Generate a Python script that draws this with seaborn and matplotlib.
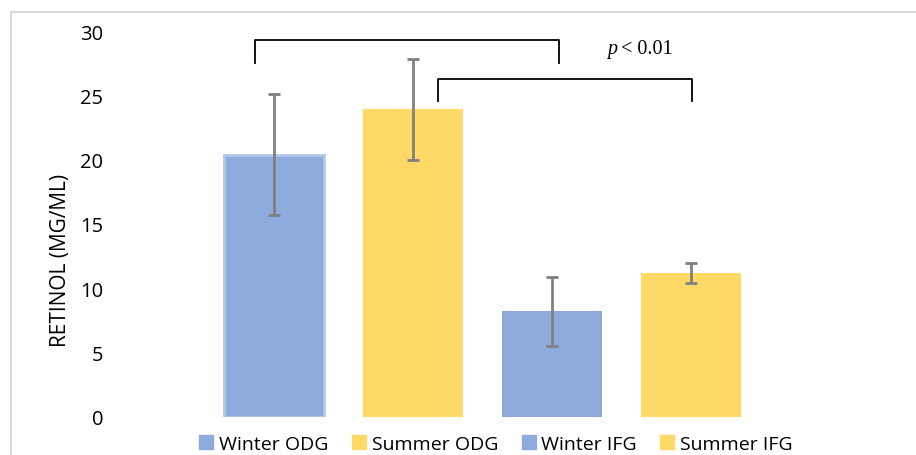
import matplotlib
matplotlib.use("Agg")
import matplotlib.pyplot as plt
import matplotlib.patches as mpatches
import seaborn as sns

# Datos
grupos = ["Winter ODG", "Summer ODG", "Winter IFG", "Summer IFG"]
retinol = [20.4, 23.9, 8.2, 11.2]
error = [4.7, 3.9, 2.7, 0.8]
colores = ["#8FAADC", "#FFD966", "#8FAADC", "#FFD966"]

# Corchetes de significancia: (x inicio, x fin, y superior, y de las patas)
corchetes = [(-0.14, 2.05, 29.3, 27.5), (1.18, 3.01, 26.25, 24.55)]
texto_p = "< 0.01"

plt.rcParams["font.family"] = ["Open Sans", "DejaVu Sans"]

fig = plt.figure(figsize=(9.16, 4.56), dpi=100)
ax = fig.add_axes([110 / 916, 38 / 456, 795 / 916, 386 / 456])

sns.barplot(x=grupos, y=retinol, hue=grupos, palette=colores, width=0.72,
            saturation=1, legend=False, ax=ax, order=grupos, hue_order=grupos)

# borde claro en la primera barra
ax.patches[0].set_edgecolor("#B4C7E7")
ax.patches[0].set_linewidth(2)

ax.errorbar(range(len(grupos)), retinol, yerr=error, fmt="none",
            ecolor="#808080", elinewidth=2, capsize=4.3, capthick=2)

for x0, x1, ytop, ypie in corchetes:
    ax.plot([x0, x0, x1, x1], [ypie, ytop, ytop, ypie], color="black", lw=1.3,
            clip_on=False)

ax.text(2.40, 28.65, "p", fontfamily="Liberation Serif", fontstyle="italic",
        fontsize=14.5, va="center", ha="left")
ax.text(2.50, 28.65, texto_p, fontfamily="Liberation Serif",
        fontsize=14.5, va="center", ha="left")

ax.set_xlim(-1.18, 4.54)
ax.set_ylim(0, 30)
ax.set_yticks(range(0, 31, 5))
ax.set_xticks([])
ax.tick_params(axis="y", length=0, labelsize=14.5, pad=5)
for s in ax.spines.values():
    s.set_visible(False)
ax.set_ylabel("RETINOL (MG/ML)", fontsize=15)
ax.yaxis.set_label_coords((71 - 110) / 795, (418 - 260) / 386)

handles = [mpatches.Patch(color=c) for c in colores]
fig.legend(handles, grupos, loc="center", bbox_to_anchor=(496 / 916, 11 / 456),
           ncol=4, frameon=False, fontsize=14, handlelength=0.72,
           handleheight=0.72, handletextpad=0.3, columnspacing=1.2)

# marco gris del grafico
fig.patches.append(mpatches.Rectangle((11 / 916, -0.1), 1.0, (456 - 13) / 456 + 0.1,
                                      transform=fig.transFigure, fill=False,
                                      edgecolor="#D9D9D9", lw=1.5))

fig.savefig("out.png", dpi=100)
